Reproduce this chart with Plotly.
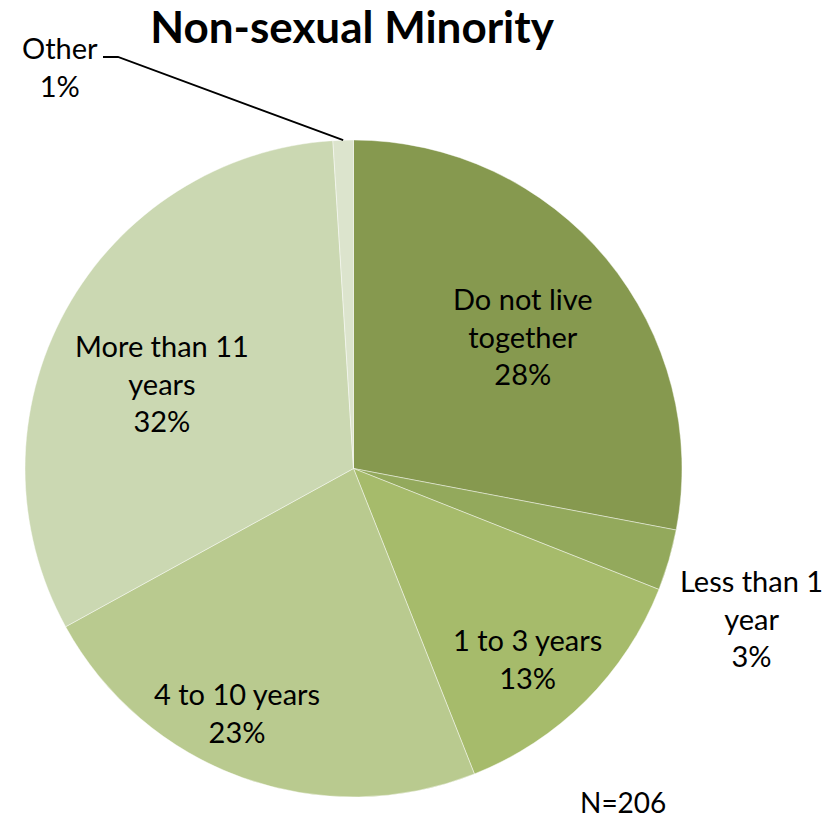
import math
import plotly.graph_objects as go

# Living-arrangement duration, non-sexual minority respondents (percent)
categories = ["Do not live together", "Less than 1 year", "1 to 3 years",
              "4 to 10 years", "More than 11 years", "Other"]
label_text = ["Do not live<br>together", "Less than 1<br>year", "1 to 3 years",
              "4 to 10 years", "More than 11<br>years", "Other"]
shares = [28, 3, 13, 23, 32, 1]
sample_size = 206

colors = ["#86994F", "#93A95C", "#A6BB6B", "#B9CA8F", "#CBD8B2", "#DCE4CD"]

W, H = 831, 819
# pie placement in pixels
cx, cy, R = 353.5, 468.5, 328.5

# label placement: radius as fraction of R, angular nudge in degrees
label_radius = [0.655, 1.293, 0.784, 0.824, 0.638, 1.516]
label_nudge = [1.6, 4.4, 2.4, 5.7, -4.7, -34.3]

FONT = "Lato, Calibri, sans-serif"
LABEL_SIZE = 29

fig = go.Figure(go.Pie(
    labels=categories,
    values=shares,
    sort=False,
    direction="clockwise",
    rotation=0,
    marker=dict(colors=colors, line=dict(color="rgba(255,255,255,0.55)", width=0.8)),
    textinfo="none",
    hoverinfo="skip",
    showlegend=False,
    domain=dict(x=[(cx - R) / W, (cx + R) / W],
                y=[1 - (cy + R) / H, 1 - (cy - R) / H]),
))


def to_paper(px, py):
    return px / W, 1 - py / H


total = sum(shares)
annotations = []
shapes = []
cum = 0.0
for i, v in enumerate(shares):
    mid = (cum + v / 2) / total * 360.0
    cum += v
    ang = math.radians(mid + label_nudge[i])
    r = R * label_radius[i]
    px = cx + r * math.sin(ang)
    py = cy - r * math.cos(ang)
    x, y = to_paper(px, py)
    annotations.append(dict(
        x=x, y=y, xref="paper", yref="paper",
        text=f"{label_text[i]}<br>{round(v / total * 100)}%",
        showarrow=False, xanchor="center", yanchor="middle",
        font=dict(family=FONT, size=LABEL_SIZE, color="black"),
    ))
    if categories[i] == "Other":
        # leader line from the slice edge to the label
        ma = math.radians(mid)
        ex = cx + R * math.sin(ma)
        ey = cy - R * math.cos(ma)
        pts = [(ex, ey), (118, 57), (103, 57)]
        path = "M " + " L ".join(
            f"{to_paper(a, b)[0]},{to_paper(a, b)[1]}" for a, b in pts)
        shapes.append(dict(type="path", path=path, xref="paper", yref="paper",
                           line=dict(color="black", width=1.8)))

annotations.append(dict(
    x=623 / W, y=1 - 802 / H, xref="paper", yref="paper",
    text=f"N={sample_size}", showarrow=False,
    xanchor="center", yanchor="middle",
    font=dict(family=FONT, size=28, color="black"),
))

fig.update_layout(
    width=W, height=H,
    margin=dict(l=0, r=0, t=0, b=0),
    paper_bgcolor="white",
    plot_bgcolor="white",
    title=dict(text="<b>Non-sexual Minority</b>", x=352 / W, xanchor="center",
               y=1 - 28 / H, yanchor="middle",
               font=dict(family=FONT, size=44, color="black")),
    annotations=annotations,
    shapes=shapes,
)

fig.write_html("out.html")
